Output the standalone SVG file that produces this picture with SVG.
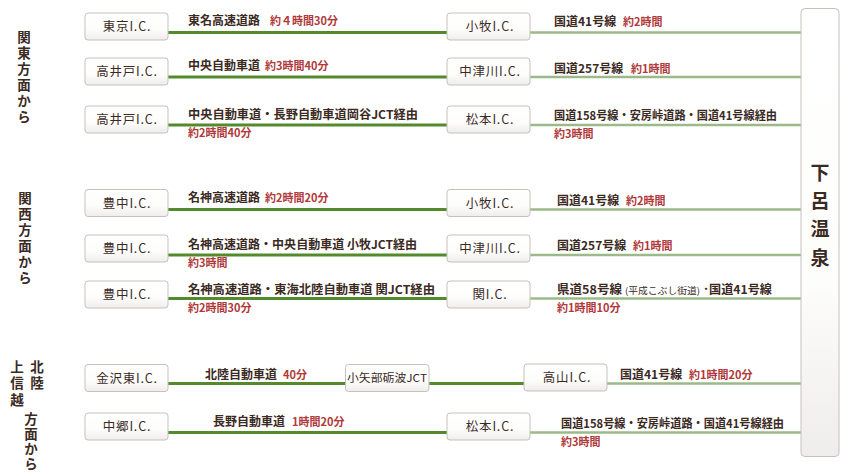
<svg xmlns="http://www.w3.org/2000/svg" width="851" height="476" viewBox="0 0 851 476">
<defs>
<linearGradient id="bg" x1="0" y1="0" x2="0" y2="1">
<stop offset="0" stop-color="#ffffff"/>
<stop offset="0.6" stop-color="#fdfdfc"/>
<stop offset="1" stop-color="#efedeb"/>
</linearGradient>
</defs>
<style>
.box{fill:url(#bg);stroke:#c6c1bd;stroke-width:1}
.bt{font-family:"Noto Sans CJK JP","Noto Sans",sans-serif;font-size:12.5px;fill:#3b2a1f;text-anchor:middle;letter-spacing:0.8px}
.rd{font-family:"Noto Sans CJK JP","Noto Sans",sans-serif;font-size:12px;font-weight:700;fill:#3b2a1f}
.tm{font-family:"Noto Sans CJK JP","Noto Sans",sans-serif;font-size:11px;font-weight:700;fill:#b03a3a}
.sm{font-family:"Noto Sans CJK JP","Noto Sans",sans-serif;font-size:9px;fill:#3b2a1f}
.lb{font-family:"Noto Sans CJK JP","Noto Sans",sans-serif;font-size:13.5px;font-weight:700;fill:#3b2a1f;writing-mode:vertical-rl;text-orientation:upright}
.dest{font-family:"Noto Sans CJK JP","Noto Sans",sans-serif;font-size:19px;font-weight:700;fill:#3b2a1f;text-anchor:middle}
.dk{stroke:#558a2c;stroke-width:3;fill:none}
.lt{stroke:#9cba88;stroke-width:2.5;fill:none}
</style>

<g id="connectors">
<line class="dk" x1="168" y1="32.5" x2="447" y2="32.5"/>
<line class="dk" x1="168" y1="77" x2="447" y2="77"/>
<line class="dk" x1="168" y1="125" x2="447" y2="125"/>
<line class="dk" x1="168" y1="209.5" x2="447" y2="209.5"/>
<line class="dk" x1="168" y1="255" x2="447" y2="255"/>
<line class="dk" x1="168" y1="298.5" x2="447" y2="298.5"/>
<line class="dk" x1="168" y1="383.5" x2="346" y2="383.5"/>
<line class="dk" x1="429" y1="383.5" x2="524" y2="383.5"/>
<line class="dk" x1="168" y1="432.5" x2="447" y2="432.5"/>
<line class="lt" x1="530" y1="32.5" x2="801" y2="32.5"/>
<line class="lt" x1="530" y1="77" x2="801" y2="77"/>
<line class="lt" x1="530" y1="125" x2="801" y2="125"/>
<line class="lt" x1="530" y1="209.5" x2="801" y2="209.5"/>
<line class="lt" x1="530" y1="255" x2="801" y2="255"/>
<line class="lt" x1="530" y1="298.5" x2="801" y2="298.5"/>
<line class="lt" x1="607" y1="383.5" x2="801" y2="383.5"/>
<line class="lt" x1="530" y1="432.5" x2="801" y2="432.5"/>
</g>

<g id="labels">
<text id="label-kanto" class="lb" x="24" y="30" style="letter-spacing:2.5px">関東方面から</text>
<text id="label-kansai" class="lb" x="25" y="191" style="letter-spacing:2.5px">関西方面から</text>
<g id="label-hokuriku">
<text class="lb" x="37" y="360" style="letter-spacing:3px">北陸</text>
<text class="lb" x="17" y="360" style="letter-spacing:3px">上信越</text>
<text class="lb" x="31" y="412" style="letter-spacing:1.5px">方面から</text>
</g>
</g>

<g id="dest-gero">
<rect class="box" x="801" y="8.5" width="38" height="448" rx="4"/>
<text class="dest" x="820" y="180">下</text>
<text class="dest" x="820" y="208">呂</text>
<text class="dest" x="820" y="236">温</text>
<text class="dest" x="820" y="265">泉</text>
</g>

<g id="n-tokyo"><rect class="box" x="85" y="13" width="83" height="27" rx="3"/><text class="bt" x="127" y="31">東京I.C.</text></g>
<g id="n-takaido1"><rect class="box" x="85" y="58" width="83" height="27" rx="3"/><text class="bt" x="127" y="76">高井戸I.C.</text></g>
<g id="n-takaido2"><rect class="box" x="85" y="106" width="83" height="27" rx="3"/><text class="bt" x="127" y="124">高井戸I.C.</text></g>
<g id="n-toyonaka1"><rect class="box" x="85" y="189.5" width="83" height="27" rx="3"/><text class="bt" x="127" y="207.5">豊中I.C.</text></g>
<g id="n-toyonaka2"><rect class="box" x="85" y="235" width="83" height="27" rx="3"/><text class="bt" x="127" y="253">豊中I.C.</text></g>
<g id="n-toyonaka3"><rect class="box" x="85" y="281" width="83" height="27" rx="3"/><text class="bt" x="127" y="299">豊中I.C.</text></g>
<g id="n-kanazawa"><rect class="box" x="85" y="364.5" width="83" height="27" rx="3"/><text class="bt" x="127" y="382.5">金沢東I.C.</text></g>
<g id="n-nakago"><rect class="box" x="85" y="413" width="83" height="27" rx="3"/><text class="bt" x="127" y="431">中郷I.C.</text></g>

<g id="n-komaki1"><rect class="box" x="447" y="13" width="83" height="27" rx="3"/><text class="bt" x="490" y="31">小牧I.C.</text></g>
<g id="n-nakatsugawa1"><rect class="box" x="447" y="58" width="83" height="27" rx="3"/><text class="bt" x="490" y="76">中津川I.C.</text></g>
<g id="n-matsumoto1"><rect class="box" x="447" y="106" width="83" height="27" rx="3"/><text class="bt" x="490" y="124">松本I.C.</text></g>
<g id="n-komaki2"><rect class="box" x="447" y="189.5" width="83" height="27" rx="3"/><text class="bt" x="490" y="207.5">小牧I.C.</text></g>
<g id="n-nakatsugawa2"><rect class="box" x="447" y="235" width="83" height="27" rx="3"/><text class="bt" x="490" y="253">中津川I.C.</text></g>
<g id="n-seki"><rect class="box" x="447" y="281" width="83" height="27" rx="3"/><text class="bt" x="490" y="299">関I.C.</text></g>
<g id="n-oyabe"><rect class="box" x="345.5" y="364.5" width="83.5" height="27" rx="3"/><text class="bt" x="387" y="382" style="font-size:11px;letter-spacing:0" textLength="80" lengthAdjust="spacingAndGlyphs">小矢部砺波JCT</text></g>
<g id="n-takayama"><rect class="box" x="524" y="364" width="83" height="27" rx="3"/><text class="bt" x="567" y="382">高山I.C.</text></g>
<g id="n-matsumoto2"><rect class="box" x="447" y="413" width="83" height="27" rx="3"/><text class="bt" x="490" y="431">松本I.C.</text></g>

<g id="route-texts">
<text class="rd" x="188" y="25">東名高速道路</text><text class="tm" x="270" y="25">約４時間30分</text>
<text class="rd" x="188" y="70">中央自動車道</text><text class="tm" x="265" y="70">約3時間40分</text>
<text class="rd" x="188" y="119" textLength="230" lengthAdjust="spacingAndGlyphs">中央自動車道・長野自動車道岡谷JCT経由</text><text class="tm" x="188" y="137">約2時間40分</text>
<text class="rd" x="188" y="202">名神高速道路</text><text class="tm" x="265" y="202">約2時間20分</text>
<text class="rd" x="188" y="249" textLength="229" lengthAdjust="spacingAndGlyphs">名神高速道路・中央自動車道 小牧JCT経由</text><text class="tm" x="188" y="267">約3時間</text>
<text class="rd" x="188" y="294" textLength="247" lengthAdjust="spacingAndGlyphs">名神高速道路・東海北陸自動車道 関JCT経由</text><text class="tm" x="188" y="312">約2時間30分</text>
<text class="rd" x="205" y="379">北陸自動車道</text><text class="tm" x="283" y="379">40分</text>
<text class="rd" x="213" y="426">長野自動車道</text><text class="tm" x="292" y="426">1時間20分</text>

<text class="rd" x="554" y="26">国道41号線</text><text class="tm" x="623" y="26">約2時間</text>
<text class="rd" x="554" y="73">国道257号線</text><text class="tm" x="631" y="73">約1時間</text>
<text class="rd" x="554" y="120" textLength="223" lengthAdjust="spacingAndGlyphs">国道158号線・安房峠道路・国道41号線経由</text><text class="tm" x="554" y="138">約3時間</text>
<text class="rd" x="557" y="205">国道41号線</text><text class="tm" x="626" y="205">約2時間</text>
<text class="rd" x="557" y="250">国道257号線</text><text class="tm" x="633" y="250">約1時間</text>
<text class="rd" x="557" y="294" textLength="65" lengthAdjust="spacingAndGlyphs">県道58号線</text><text class="sm" x="625" y="294" textLength="75" lengthAdjust="spacingAndGlyphs">(平成こぶし街道)</text><text class="rd" x="703" y="294" textLength="69" lengthAdjust="spacingAndGlyphs">･国道41号線</text><text class="tm" x="557" y="312">約1時間10分</text>
<text class="rd" x="620" y="379">国道41号線</text><text class="tm" x="689" y="379">約1時間20分</text>
<text class="rd" x="561" y="428" textLength="223" lengthAdjust="spacingAndGlyphs">国道158号線・安房峠道路・国道41号線経由</text><text class="tm" x="561" y="446">約3時間</text>
</g>
</svg>
